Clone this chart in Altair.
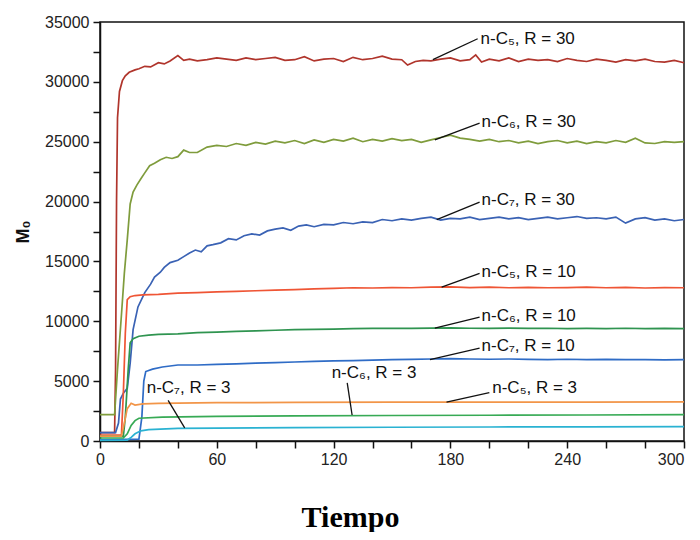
import altair as alt
import pandas as pd

# ---------------- data ----------------
series_names = [
    "n-C5, R = 30", "n-C6, R = 30", "n-C7, R = 30",
    "n-C5, R = 10", "n-C6, R = 10", "n-C7, R = 10",
    "n-C5, R = 3", "n-C6, R = 3", "n-C7, R = 3",
]
series_colors = [
    "#b0352c", "#7f9c3c", "#3a62b4",
    "#ef5535", "#2f9450", "#2f6cc6",
    "#f29548", "#37aa55", "#2ab2d2",
]

c5_r30_t = [0, 7.5, 8, 8.5, 9, 10, 11.5, 13, 15, 18, 20, 23, 26, 30, 33, 36, 40, 43, 46, 50, 55, 60,
            65, 70, 75, 80, 85, 90, 95, 100, 105, 110, 115, 120, 125, 130, 135, 140, 145, 150, 155,
            158, 162, 166, 170, 175, 180, 185, 190, 193, 196, 200, 205, 210, 215, 220, 225, 230,
            235, 240, 245, 250, 255, 260, 265, 270, 275, 280, 285, 290, 295, 300]
c5_r30_v = [700, 700, 6000, 20000, 27000, 29200, 30100, 30500, 30800, 31000, 31100, 31300, 31250,
            31600, 31500, 31750, 32200, 31800, 31900, 31750, 31850, 32000, 31900, 31800, 32000,
            31850, 31950, 32050, 31800, 31850, 32100, 31750, 31900, 31950, 31700, 32050, 31850,
            31950, 32150, 31900, 31850, 31400, 31700, 31800, 31750, 31900, 32000, 31750, 31850,
            32250, 31650, 31900, 31750, 32000, 31700, 31900, 31800, 31850, 31700, 31950, 31800,
            31700, 31900, 31800, 31650, 31850, 31750, 31900, 31700, 31650, 31800, 31600]

c6_r30_t = [0, 7.5, 9, 11, 12.5, 14, 15.5, 17, 19, 21, 23, 25.5, 28, 31, 34, 37, 40, 43, 46, 50, 55,
            60, 65, 70, 75, 80, 85, 90, 95, 100, 105, 110, 115, 120, 125, 130, 135, 140, 145, 150,
            155, 160, 165, 170, 175, 180, 185, 190, 195, 200, 205, 210, 215, 220, 225, 230, 235,
            240, 245, 250, 255, 260, 265, 270, 275, 280, 285, 290, 295, 300]
c6_r30_v = [2200, 2200, 6000, 10500, 14000, 16800, 19800, 20800, 21400, 21900, 22400, 23000, 23200,
            23500, 23700, 23600, 23750, 24300, 24100, 24100, 24550, 24700, 24600, 24850, 24700,
            24950, 24800, 25050, 24900, 25100, 24850, 25150, 24950, 25200, 25050, 25300, 25000,
            25200, 25050, 25250, 25100, 25200, 24950, 25150, 25350, 25550, 25300, 25200, 25050,
            25200, 25000, 25100, 24900, 25050, 24850, 25000, 25100, 24900, 25050, 24850, 25000,
            24900, 25100, 24950, 25300, 24900, 24850, 25000, 24950, 25000]

c7_r30_t = [0, 8, 9.5, 10.5, 12, 14, 15.5, 17, 19.5, 23, 26, 28, 31, 33, 36, 40, 43, 46, 49, 52, 55,
            58, 62, 66, 70, 74, 78, 82, 86, 90, 94, 98, 102, 106, 110, 115, 120, 125, 130, 135, 140,
            145, 150, 155, 160, 165, 170, 175, 180, 185, 190, 195, 200, 205, 210, 215, 220, 225,
            230, 235, 240, 245, 250, 255, 260, 265, 270, 275, 280, 285, 290, 295, 300]
c7_r30_v = [700, 700, 1500, 3500, 4000, 4400, 6500, 9300, 11200, 12400, 13100, 13700, 14100, 14500,
            14900, 15100, 15400, 15700, 15950, 15800, 16300, 16400, 16550, 16900, 16800, 17150,
            17300, 17200, 17550, 17700, 17800, 17600, 17950, 18050, 17900, 18100, 18050, 18250,
            18150, 18300, 18250, 18500, 18400, 18550, 18450, 18600, 18700, 18450, 18600, 18550,
            18700, 18500, 18600, 18700, 18550, 18650, 18500, 18600, 18700, 18550, 18650, 18750,
            18600, 18650, 18550, 18700, 18200, 18550, 18650, 18450, 18550, 18400, 18500]

c5_r10_t = [0, 11, 12, 13, 14, 15.5, 18, 22, 30, 40, 50, 60, 70, 80, 90, 100, 110, 120, 130, 140,
            150, 160, 170, 180, 190, 200, 210, 220, 230, 240, 250, 260, 270, 280, 290, 300]
c5_r10_v = [500, 500, 4000, 9000, 11800, 12050, 12150, 12200, 12250, 12350, 12400, 12450, 12500,
            12550, 12600, 12650, 12700, 12750, 12800, 12780, 12820, 12800, 12850, 12880, 12820,
            12850, 12800, 12830, 12800, 12820, 12850, 12800, 12830, 12780, 12820, 12800]

c6_r10_t = [0, 12, 13, 14.5, 15.5, 17, 20, 25, 30, 40, 50, 60, 70, 80, 90, 100, 110, 120, 130, 140,
            150, 160, 170, 180, 190, 200, 210, 220, 230, 240, 250, 260, 270, 280, 290, 300]
c6_r10_v = [400, 400, 2000, 6000, 8200, 8550, 8750, 8850, 8900, 8950, 9050, 9100, 9150, 9200, 9250,
            9300, 9320, 9350, 9380, 9400, 9420, 9400, 9430, 9450, 9420, 9400, 9430, 9400, 9420,
            9380, 9400, 9390, 9420, 9380, 9400, 9380]

c7_r10_t = [0, 20, 21.5, 22.5, 23.5, 27, 32, 40, 50, 60, 70, 80, 90, 100, 110, 120, 130, 140, 150,
            160, 170, 180, 190, 200, 210, 220, 230, 240, 250, 260, 270, 280, 290, 300]
c7_r10_v = [100, 150, 2000, 5000, 5800, 6000, 6180, 6350, 6350, 6400, 6450, 6500, 6550, 6600, 6650,
            6700, 6720, 6750, 6800, 6820, 6850, 6880, 6850, 6830, 6850, 6820, 6800, 6830, 6800,
            6820, 6790, 6800, 6780, 6800]

c5_r3_t = [0, 11, 12.5, 14, 16, 18, 22, 30, 60, 100, 150, 200, 250, 300]
c5_r3_v = [400, 400, 1500, 2700, 3150, 3000, 3100, 3150, 3200, 3220, 3240, 3250, 3250, 3260]

c6_r3_t = [0, 12, 14, 16, 18, 20, 32, 60, 100, 150, 200, 250, 300]
c6_r3_v = [250, 250, 600, 1300, 1700, 1900, 2000, 2050, 2100, 2130, 2150, 2170, 2200]

c7_r3_t = [0, 14, 16, 18, 21, 25, 40, 60, 100, 150, 200, 250, 300]
c7_r3_v = [50, 80, 300, 600, 850, 950, 1050, 1080, 1120, 1150, 1170, 1180, 1200]

series_t = [c5_r30_t, c6_r30_t, c7_r30_t, c5_r10_t, c6_r10_t, c7_r10_t, c5_r3_t, c6_r3_t, c7_r3_t]
series_v = [c5_r30_v, c6_r30_v, c7_r30_v, c5_r10_v, c6_r10_v, c7_r10_v, c5_r3_v, c6_r3_v, c7_r3_v]

# annotation labels (text anchor + leader line, in data units)
label_text = [
    "n-C₅, R = 30", "n-C₆, R = 30", "n-C₇, R = 30",
    "n-C₅, R = 10", "n-C₆, R = 10", "n-C₇, R = 10",
    "n-C₆, R = 3", "n-C₅, R = 3", "n-C₇, R = 3",
]
label_t = [195.5, 196, 196, 196, 196, 196, 119, 201.5, 24]
label_v = [33550, 26650, 20100, 14150, 10450, 7900, 5700, 4450, 4450]
leader_t1 = [171, 172, 173, 175.5, 172, 169.5, 127, 178, 35]
leader_v1 = [31850, 25150, 18500, 12850, 9430, 6800, 4850, 3250, 3400]
leader_t2 = [194, 195, 195, 195, 195, 195, 129.5, 200, 43.5]
leader_v2 = [33600, 26550, 19950, 14000, 10350, 7750, 2170, 4050, 1100]

x_ticks = list(range(0, 301, 20))
y_ticks = list(range(0, 35001, 2500))

# ---------------- build tables ----------------
rows = []
for name, ts, vs in zip(series_names, series_t, series_v):
    for i, (t, v) in enumerate(zip(ts, vs)):
        rows.append({"series": name, "t": t, "v": v, "i": i})
df = pd.DataFrame(rows)

ann = pd.DataFrame({
    "label": label_text, "lt": label_t, "lv": label_v,
    "t1": leader_t1, "v1": leader_v1, "t2": leader_t2, "v2": leader_v2,
})

xscale = alt.Scale(domain=[0, 300], nice=False, zero=False)
yscale = alt.Scale(domain=[0, 35000], nice=False)

x_axis = alt.Axis(
    values=x_ticks,
    labelExpr="datum.value % 60 == 0 ? format(datum.value, 'd') : ''",
    labelOverlap=False,
    labelAlign={"condition": {"test": "datum.value >= 300", "value": "right"}, "value": "center"},
    title="Tiempo",
    titleFont="Liberation Serif", titleFontSize=30, titleFontWeight="bold",
    titleColor="#000", titleX=250, titleY=85, titleAlign="center",
    titleBaseline="alphabetic", titleAnchor="start",
    labelFont="Liberation Sans", labelFontSize=16, labelColor="#222",
    tickSize=7, tickColor="#111", tickWidth=1.5, labelPadding=3,
    domainColor="#111", domainWidth=1.5, grid=False, labelFlush=False,
)
y_axis = alt.Axis(
    values=y_ticks,
    labelExpr="datum.value % 5000 == 0 ? format(datum.value, 'd') : ''",
    labelOverlap=False,
    title="M₀",
    titleFont="Liberation Sans", titleFontSize=18, titleFontWeight="bold",
    titleColor="#111", titlePadding=12,
    labelFont="Liberation Sans", labelFontSize=16, labelColor="#222",
    tickSize=7, tickColor="#111", tickWidth=1.5, labelPadding=4,
    domainColor="#111", domainWidth=1.5, grid=False,
)

lines = alt.Chart(df).mark_line(strokeWidth=1.7, interpolate="linear").encode(
    x=alt.X("t:Q", scale=xscale, axis=x_axis),
    y=alt.Y("v:Q", scale=yscale, axis=y_axis),
    color=alt.Color("series:N", scale=alt.Scale(domain=series_names, range=series_colors), legend=None),
    order="i:Q",
)

leaders = alt.Chart(ann).mark_rule(color="#111", strokeWidth=1.3).encode(
    x=alt.X("t1:Q", scale=xscale, axis=x_axis), y=alt.Y("v1:Q", scale=yscale, axis=y_axis),
    x2="t2:Q", y2="v2:Q",
)

texts = alt.Chart(ann).mark_text(
    align="left", baseline="middle", font="Liberation Sans", fontSize=17, color="#111"
).encode(
    x=alt.X("lt:Q", scale=xscale, axis=x_axis), y=alt.Y("lv:Q", scale=yscale, axis=y_axis),
    text="label:N",
)

chart = alt.layer(lines, leaders, texts).properties(
    width=584, height=419,
    autosize=alt.AutoSizeParams(type="none"),
    padding={"left": 92, "top": 14, "right": 8, "bottom": 91},
).configure_view(stroke="#111", strokeWidth=1.5).configure_axis(labelOverlap=False)

chart.save("out.html", embed_options={"renderer": "svg", "actions": False})
